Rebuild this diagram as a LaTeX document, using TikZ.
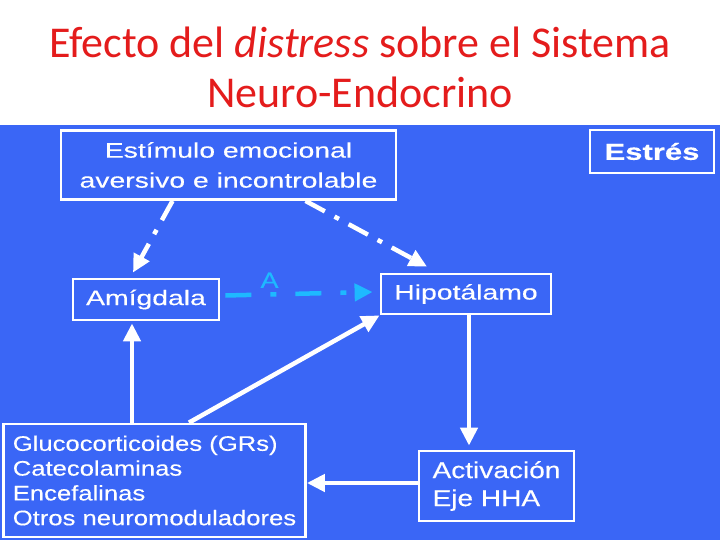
\documentclass[tikz,border=0pt]{standalone}
\usepackage{fontspec}
\usepackage{xcolor}
\usepackage{tikz}
\usetikzlibrary{arrows.meta,positioning}

\newfontfamily\titlefont{Carlito}
\newfontfamily\boxfont[FakeStretch=1.35,FakeBold=0.3]{Liberation Sans}
\newfontfamily\listfont[FakeStretch=1.22,FakeBold=0.3]{Liberation Sans}

\definecolor{slideblue}{RGB}{58,102,246}
\definecolor{titlered}{RGB}{228,28,28}
\definecolor{linkcyan}{RGB}{30,185,255}

\begin{document}
\begin{tikzpicture}[
  x=1pt, y=-1pt,
  box/.style={draw=white, line width=2.8pt, fill=slideblue, text=white, inner sep=0pt,
    font=\boxfont\fontsize{21}{30}\selectfont},
  heading/.style={titlered, anchor=base, font=\titlefont\fontsize{44}{50}\selectfont},
  edge/.style={-{Triangle[length=18pt,width=17pt]}, line width=4.5pt, white},
  dashedge/.style={edge, dash pattern=on 22pt off 11pt on 5pt off 11pt},
  linkedge/.style={edge, linkcyan, dash pattern=on 26pt off 19pt on 6pt off 19pt}
]
\useasboundingbox (0,0) rectangle (720,540);
\fill[white] (0,0) rectangle (720,125);
\fill[slideblue] (0,125) rectangle (720,540);

% title
\node[heading] (title) at (360,58) {Efecto del \textit{distress} sobre el Sistema};
\node[heading] (subtitle) at (360,108) {Neuro-Endocrino};

% boxes
\node[box, minimum width=335pt, minimum height=69pt, align=center] (stim) at (228.5,165)
  {Estímulo emocional\\aversivo e incontrolable};
\node[box, minimum width=124pt, minimum height=43pt, font=\boxfont\bfseries\fontsize{23}{28}\selectfont] (estres) at (652,151.5) {Estrés};
\node[box, minimum width=146pt, minimum height=41pt] (amyg) at (146,299.5) {Amígdala};
\node[box, minimum width=170pt, minimum height=40pt] (hipo) at (466,294) {Hipotálamo};
\node[box, minimum width=302pt, minimum height=113pt, align=left,
  font=\listfont\fontsize{21}{24.8}\selectfont] (gluc) at (154.5,480.5)
  {Glucocorticoides (GRs)\\Catecolaminas\\Encefalinas\\Otros neuromoduladores};
\node[box, minimum width=155pt, minimum height=70pt, align=left,
  font=\listfont\fontsize{23}{28}\selectfont] (activ) at (496.5,486)
  {Activación\\Eje HHA};

% connectors
\draw[dashedge] ([xshift=-56pt]stim.south) -- ([xshift=-13pt,yshift=5pt]amyg.north);
\draw[dashedge] ([xshift=77pt]stim.south) -- ([xshift=-39pt,yshift=6pt]hipo.north);
\draw[linkedge] ([xshift=5pt,yshift=4pt]amyg.east) -- ([xshift=-7pt,yshift=2pt]hipo.west)
  node[pos=0.3, above=1pt, text=linkcyan, font=\listfont\fontsize{22}{24}\selectfont] (lblA) {A};
\draw[edge] ([xshift=-22.5pt]gluc.north) -- ([xshift=-22.5pt,yshift=-2pt]gluc.north |- amyg.south);
\draw[edge] ([xshift=34.5pt]gluc.north) -- (hipo.south west);
\draw[edge] ([xshift=3pt]hipo.south) -- ([xshift=3pt,yshift=4pt]hipo.south |- activ.north);
\draw[edge] ([yshift=3pt]activ.west) -- ([yshift=3pt]activ.west -| gluc.east);
\end{tikzpicture}
\end{document}
